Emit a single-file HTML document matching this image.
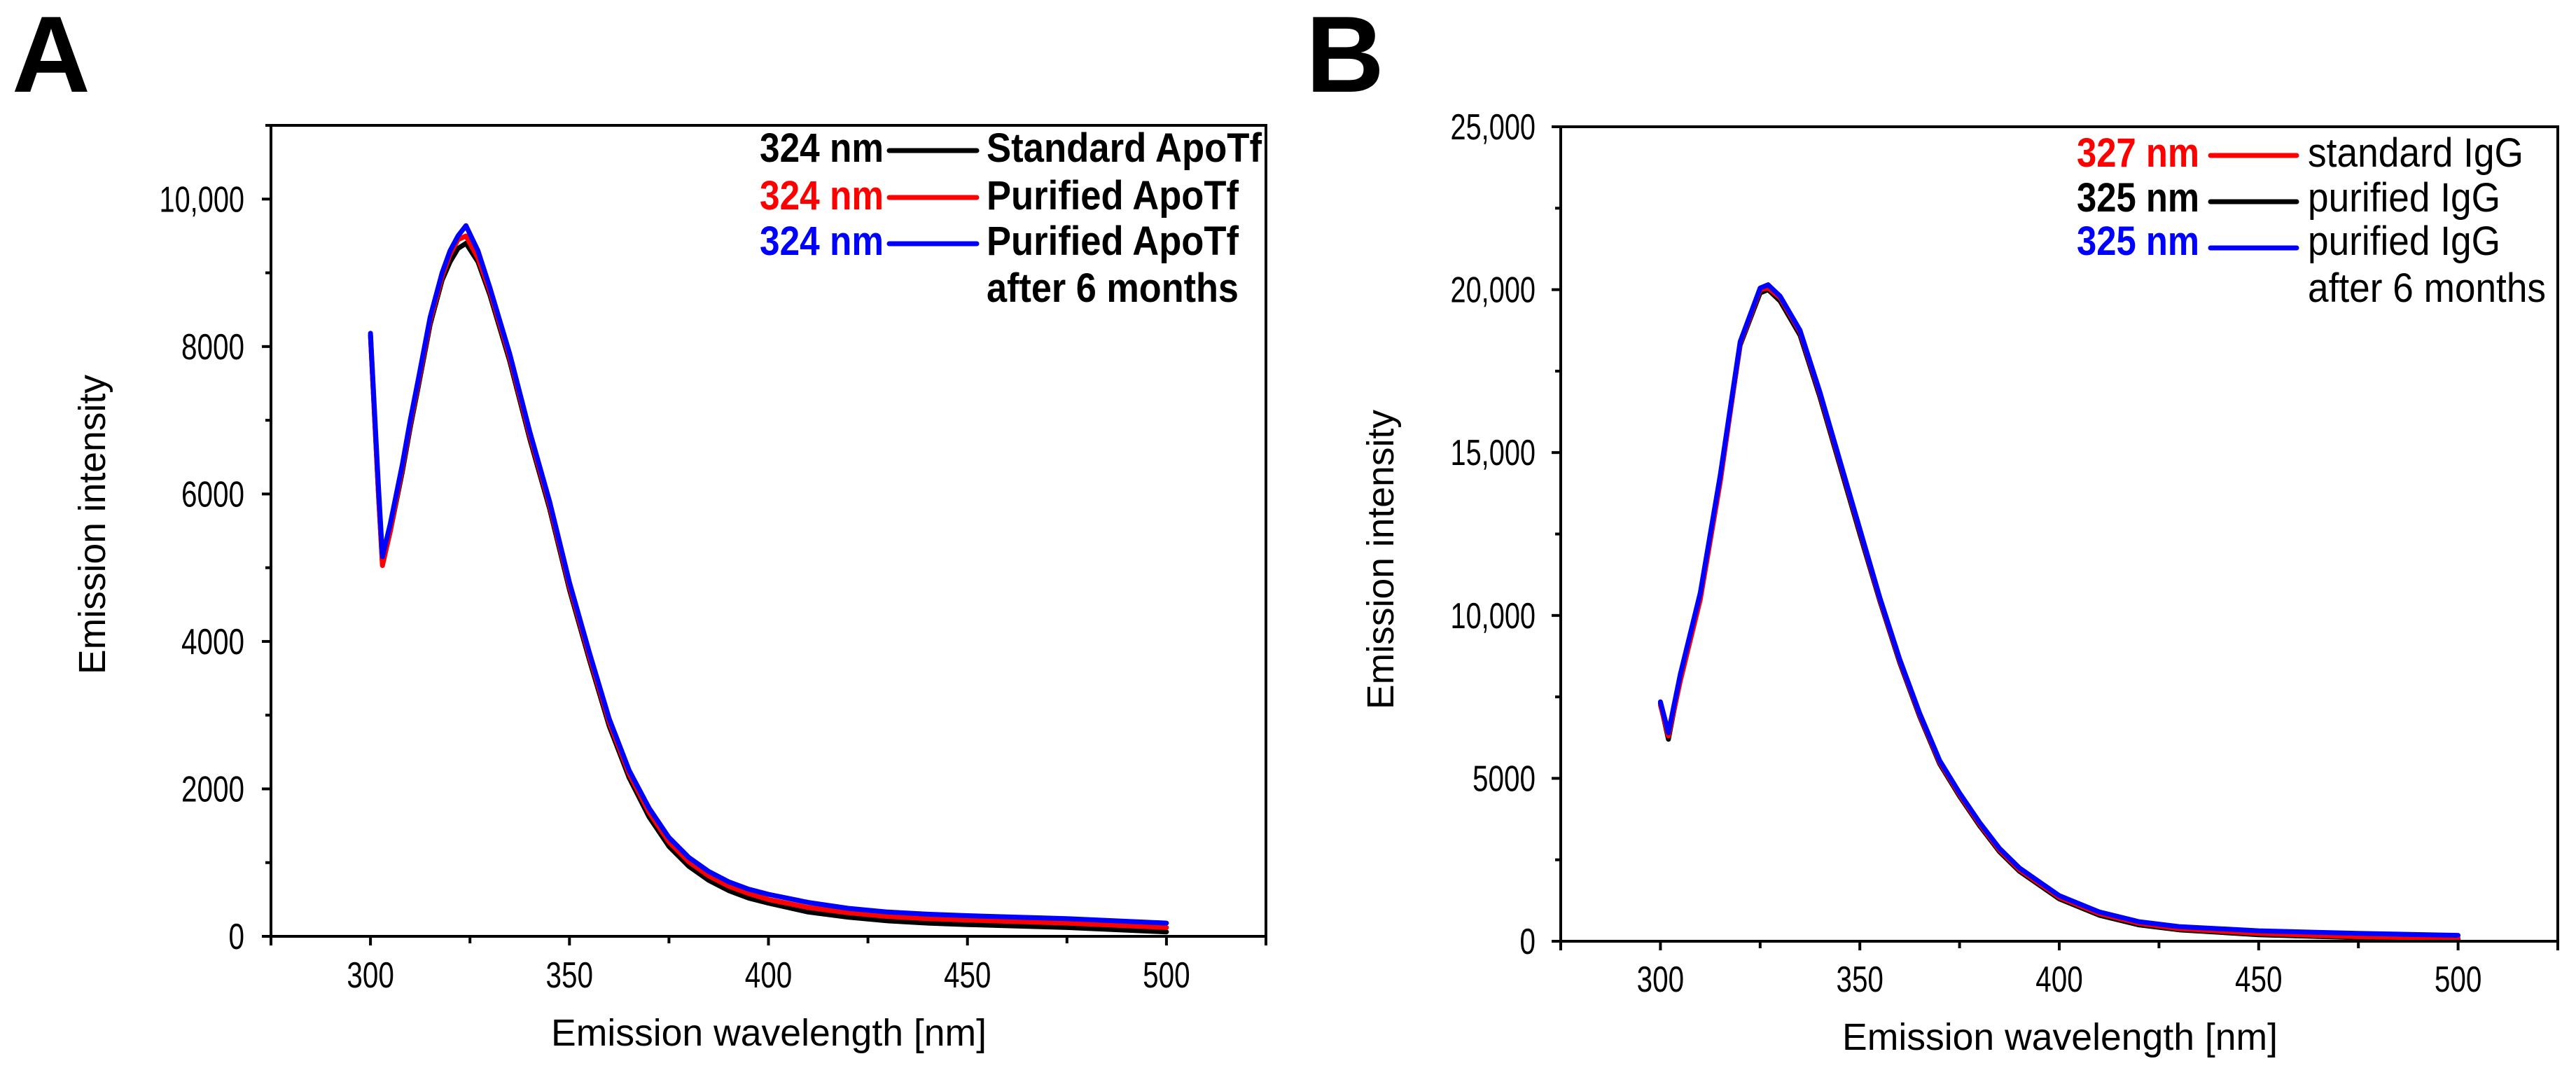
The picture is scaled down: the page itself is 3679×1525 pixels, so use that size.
<!DOCTYPE html>
<html><head><meta charset="utf-8">
<style>
html,body{margin:0;padding:0;background:#fff;}
svg{display:block;}
text{font-family:"Liberation Sans",Arial,sans-serif;}
</style></head>
<body>
<svg id="fig" width="3679" height="1525" viewBox="0 0 3679 1525" xmlns="http://www.w3.org/2000/svg">
<rect width="3679" height="1525" fill="#fff"/>
<text x="17" y="131" font-size="155" font-weight="bold">A</text>
<text x="1865" y="131" font-size="155" font-weight="bold">B</text>
<g id="panelA"></g>
<g id="panelB"></g>
</svg>
<script>
// ---- Panel A data ----
const wlA = [300,302,303,305,308,310,312,315,318,320,322,324,327,330,335,340,345,350,355,360,365,370,375,380,385,390,395,400,410,420,430,440,450,475,500];
const stdApoTf = [8150,6000,5050,5500,6300,6900,7450,8300,8900,9150,9330,9400,9150,8700,7800,6750,5800,4700,3750,2850,2150,1620,1220,950,760,620,520,450,330,260,210,180,160,120,60];
const purApoTf = [8150,6000,5030,5500,6350,6950,7500,8350,8950,9250,9450,9500,9200,8750,7850,6800,5850,4750,3800,2900,2200,1680,1280,1010,820,680,580,500,390,320,270,240,220,180,120];
const purApoTf6m = [8180,6100,5150,5600,6400,7000,7550,8400,9000,9300,9500,9640,9300,8800,7900,6850,5900,4800,3850,2950,2250,1740,1340,1070,880,740,640,570,460,380,330,300,280,240,180];
const yTicksA = [0,2000,4000,6000,8000,10000];
// ---- Panel B data ----
const wlB = [300,302,305,310,315,320,325,327,330,335,340,345,350,355,360,365,370,375,380,385,390,400,410,420,430,450,475,500];
const purIgG = [7300,6200,8100,10600,14200,18300,19900,20000,19650,18600,16700,14600,12500,10450,8550,6900,5450,4450,3550,2750,2150,1300,800,500,350,200,110,60];
const stdIgG = [7250,6300,8000,10500,14100,18350,20000,20050,19750,18700,16800,14700,12600,10500,8600,6950,5500,4500,3600,2800,2200,1350,850,550,390,240,140,90];
const purIgG6m = [7350,6400,8200,10700,14300,18400,20050,20150,19800,18750,16850,14750,12650,10550,8650,7000,5550,4550,3650,2850,2250,1400,900,600,450,320,240,180];
const yTicksB = [0,5000,10000,15000,20000,25000];
const xTicks = [300,350,400,450,500];

const NS = "http://www.w3.org/2000/svg";
function mk(parent, tag, attrs, txt){
  const e = document.createElementNS(NS, tag);
  for (const k in attrs) e.setAttribute(k, attrs[k]);
  if (txt !== undefined) e.textContent = txt;
  parent.appendChild(e);
  return e;
}
function fmt(v){ return v >= 10000 ? v.toLocaleString('en-US') : String(v); }
function lenOf(s){ let n=0; for (const c of s) n += (c===',') ? 9 : 22.5; return n; }

function drawPanel(g, cfg){
  const {x0,x1,y0,y1,ymax,minorStep,yTicks,series,legend,yLabX,yLabCY,xTitleCX,xTitleY,xLabY,yLabRight,yTitleLen} = cfg;
  const sx = v => x0 + (v - 275) / 250 * (x1 - x0);
  const sy = v => y1 - v / ymax * (y1 - y0);
  series.forEach(s => {
    const d = s.ys.map((v,i) => (i ? 'L' : 'M') + sx(s.xs[i]).toFixed(1) + ',' + sy(v).toFixed(1)).join(' ');
    const p = mk(g, 'path', {d:d, fill:'none', stroke:s.color, 'stroke-width':s.w, 'stroke-linejoin':'round', 'stroke-linecap':'round'});
    
    
  });
  const fr = mk(g, 'rect', {x:x0, y:y0, width:x1-x0, height:y1-y0, fill:'none', stroke:'#000', 'stroke-width':4});
  
  
  for (let v = 0; v <= ymax + 1; v += minorStep) {
    const major = yTicks.includes(v);
    const t = mk(g, 'line', {x1:x0 - (major ? 13 : 8), x2:x0, y1:sy(v), y2:sy(v), stroke:'#000', 'stroke-width':4});
    
    
  }
  yTicks.forEach(v => {
    const s = fmt(v);
    const t = mk(g, 'text', {x:yLabRight, y:sy(v) + 18, 'font-size':52, 'text-anchor':'end', textLength:lenOf(s), lengthAdjust:'spacingAndGlyphs'}, s);
    
    
  });
  for (let v = 275; v <= 525; v += 25) {
    const major = xTicks.includes(v) || v === 275 || v === 525;
    const t = mk(g, 'line', {x1:sx(v), x2:sx(v), y1:y1, y2:y1 + (major ? 13 : 10), stroke:'#000', 'stroke-width':4});
    
    
  }
  xTicks.forEach(v => {
    const s = String(v);
    const t = mk(g, 'text', {x:sx(v), y:xLabY, 'font-size':52, 'text-anchor':'middle', textLength:lenOf(s), lengthAdjust:'spacingAndGlyphs'}, s);
    
    
  });
  const xt = mk(g, 'text', {x:xTitleCX, y:xTitleY, 'font-size':54, 'text-anchor':'middle', textLength:622, lengthAdjust:'spacingAndGlyphs'}, 'Emission wavelength [nm]');
  
  
  const yt = mk(g, 'text', {x:0, y:0, 'font-size':54, 'text-anchor':'middle', textLength:yTitleLen, lengthAdjust:'spacingAndGlyphs', transform:`translate(${yLabX},${yLabCY}) rotate(-90)`}, 'Emission intensity');
  
  
  legend.rows.forEach(r => {
    const a = mk(g, 'text', {x:legend.nmRight, y:r.base, 'font-size':58, 'font-weight':'bold', fill:r.color, 'text-anchor':'end', textLength:legend.nmLen, lengthAdjust:'spacingAndGlyphs'}, r.nm);
    
    
    const l = mk(g, 'line', {x1:legend.lx1, x2:legend.lx2, y1:r.ly, y2:r.ly, stroke:r.color, 'stroke-width':7, 'stroke-linecap':'round'});
    
    
    r.labels.forEach((lab, i) => {
      const t = mk(g, 'text', {x:legend.labX, y:r.base + i * 67, 'font-size':58, 'font-weight':legend.labBold ? 'bold' : 'normal', textLength:lab[1], lengthAdjust:'spacingAndGlyphs'}, lab[0]);
      
      
    });
  });
}

drawPanel(document.getElementById('panelA'), {
  x0:387, x1:1808, y0:179, y1:1337, ymax:11000, minorStep:1000, yTicks:yTicksA,
  yLabRight:349, xLabY:1410, xTitleCX:1098, xTitleY:1493, yLabX:150, yLabCY:749, yTitleLen:428,
  series:[
    {xs:wlA, ys:stdApoTf, color:'#000', w:7, name:'series-standard-apotf'},
    {xs:wlA, ys:purApoTf, color:'#ff0000', w:7, name:'series-purified-apotf'},
    {xs:wlA, ys:purApoTf6m, color:'#0000ff', w:7, name:'series-purified-apotf-6-months'}
  ],
  legend:{nmRight:1262, nmLen:177, lx1:1270, lx2:1395, labX:1409, labBold:true, rows:[
    {nm:'324 nm', color:'#000', base:231, ly:215, labels:[['Standard ApoTf',393]]},
    {nm:'324 nm', color:'#ff0000', base:299, ly:282, labels:[['Purified ApoTf',360]]},
    {nm:'324 nm', color:'#0000ff', base:364, ly:348, labels:[['Purified ApoTf',360],['after 6 months',360]]}
  ]}
});

drawPanel(document.getElementById('panelB'), {
  x0:2229, x1:3653, y0:181, y1:1344, ymax:25000, minorStep:2500, yTicks:yTicksB,
  yLabRight:2193, xLabY:1416, xTitleCX:2942, xTitleY:1499, yLabX:1990, yLabCY:799, yTitleLen:428,
  series:[
    {xs:wlB, ys:purIgG, color:'#000', w:7, name:'series-purified-igg'},
    {xs:wlB, ys:stdIgG, color:'#ff0000', w:7, name:'series-standard-igg'},
    {xs:wlB, ys:purIgG6m, color:'#0000ff', w:7, name:'series-purified-igg-6-months'}
  ],
  legend:{nmRight:3141, nmLen:175, lx1:3157, lx2:3280, labX:3296, labBold:false, rows:[
    {nm:'327 nm', color:'#ff0000', base:238, ly:222, labels:[['standard IgG',308]]},
    {nm:'325 nm', color:'#000', base:302, ly:288, labels:[['purified IgG',275]]},
    {nm:'325 nm', color:'#0000ff', base:364, ly:354, labels:[['purified IgG',275],['after 6 months',340]]}
  ]}
});
</script>
</body></html>
